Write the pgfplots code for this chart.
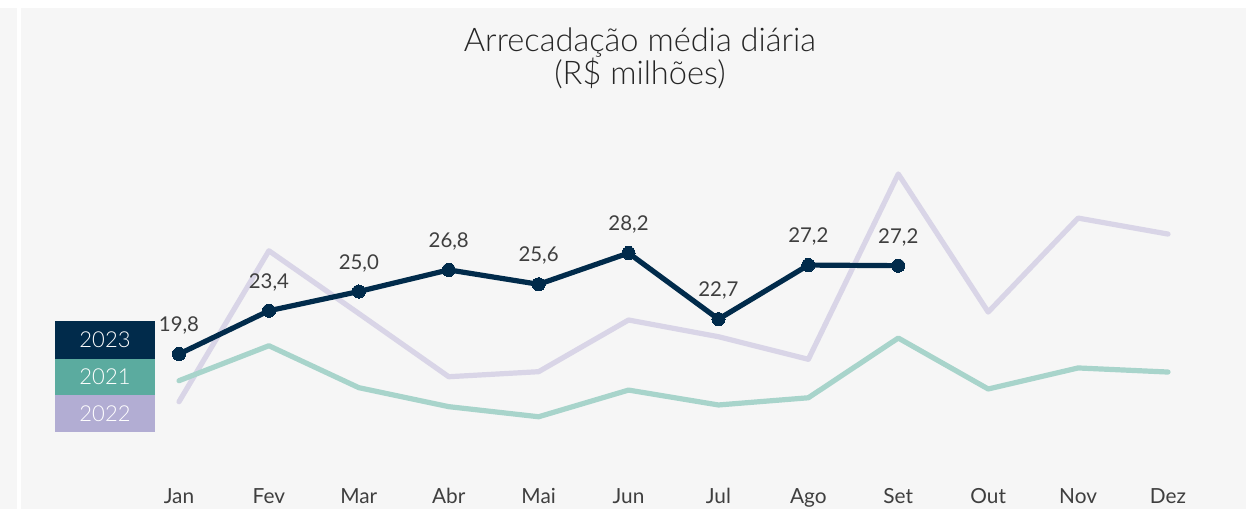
\documentclass[border=0pt]{standalone}
\usepackage{fontspec}
\setmainfont{Lato}
\newfontfamily\lightfont{Lato Light}
\usepackage{pgfplots}
\pgfplotsset{compat=1.18}
\definecolor{bg}{HTML}{F6F6F6}
\definecolor{navy}{HTML}{012B4B}
\definecolor{tealbox}{HTML}{5BAB9F}
\definecolor{tealline}{HTML}{A8D4CB}
\definecolor{lavbox}{HTML}{B2ADD3}
\definecolor{lavline}{HTML}{D9D5E7}
\definecolor{txt}{HTML}{3F3F3F}
\begin{document}
\begin{tikzpicture}[x=1pt,y=1pt]
\fill[white] (0,0) rectangle (623,254.5);
\fill[bg] (0,0) rectangle (8.4,250.5);
\fill[bg] (10.5,0) rectangle (623,250.5);
\node[anchor=base,text=black!85,font=\lightfont\fontsize{16.3}{18}\selectfont,inner sep=0] at (320,228.6) {Arrecadação média diária};
\node[anchor=base,text=black!85,font=\lightfont\fontsize{16.3}{18}\selectfont,inner sep=0] at (320,212) {(R\$ milhões)};
\begin{axis}[
  at={(89.5pt,18.6pt)}, anchor=south west,
  scale only axis, width=494.5pt, height=156.25pt,
  xmin=0, xmax=11, ymin=10, ymax=36,
  clip=false,
  axis line style={draw=none},
  ytick=\empty,
  xtick={0,...,11},
  xticklabels={Jan,Fev,Mar,Abr,Mai,Jun,Jul,Ago,Set,Out,Nov,Dez},
  major tick length=0pt,
  xticklabel style={anchor=base, inner sep=0pt, yshift=-15.6pt, text=txt, font=\fontsize{10.4}{12}\selectfont},
]
\addplot[lavline, line width=2.6pt, line join=round, line cap=round] coordinates {
(0,15.83) (1,28.39) (2,23.17) (3,17.91) (4,18.33) (5,22.63) (6,21.24) (7,19.36) (8,34.78) (9,23.29) (10,31.11) (11,29.78)};
\addplot[tealline, line width=2.6pt, line join=round, line cap=round] coordinates {
(0,17.58) (1,20.49) (2,17.0) (3,15.42) (4,14.58) (5,16.80) (6,15.56) (7,16.16) (8,21.13) (9,16.89) (10,18.64) (11,18.30)};
\addplot[navy, line width=2.6pt, line join=round, mark=*, mark size=3.3pt, mark options={fill=navy,draw=navy,line width=0pt},
  nodes near coords, point meta=explicit symbolic,
  every node near coord/.append style={anchor=base, inner sep=0pt, yshift=11.2pt, text=txt, font=\fontsize{10.2}{12}\selectfont}]
 coordinates {
(0,19.8)[19,8] (1,23.4)[23,4] (2,25.0)[25,0] (3,26.8)[26,8] (4,25.6)[25,6] (5,28.2)[28,2] (6,22.7)[22,7] (7,27.2)[27,2] (8,27.15)[27,2]};
\end{axis}
\fill[navy] (27.5,74.85) rectangle (77.5,94.15);
\fill[tealbox] (27.5,57) rectangle (77.5,74.85);
\fill[lavbox] (27.5,38.65) rectangle (77.5,57);
\node[white,font=\lightfont\fontsize{11}{12}\selectfont] at (52.5,84.5) {2023};
\node[white,font=\lightfont\fontsize{11}{12}\selectfont] at (52.5,65.9) {2021};
\node[white,font=\lightfont\fontsize{11}{12}\selectfont] at (52.5,47.8) {2022};
\end{tikzpicture}
\end{document}
